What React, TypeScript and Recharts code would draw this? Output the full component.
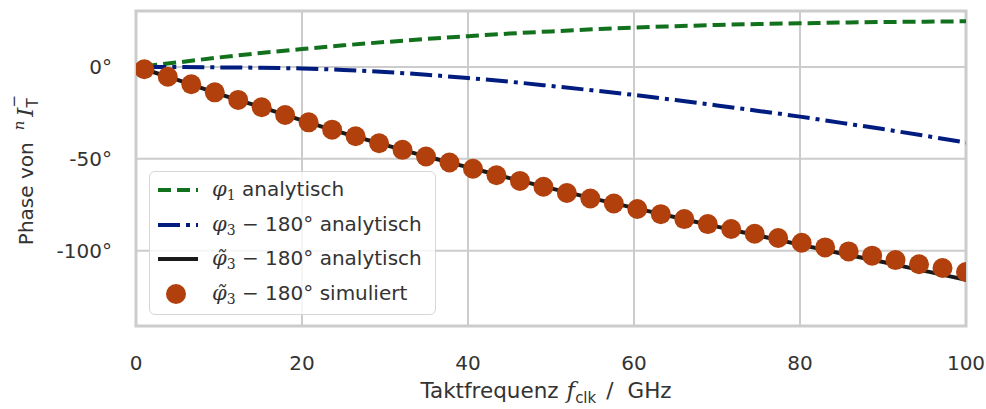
import { ComposedChart, Line, Scatter, XAxis, YAxis, CartesianGrid, Legend, ReferenceArea } from 'recharts';

// analytic curves (GHz -> degrees)
const freqAnalytic = [1, 5, 10, 15, 20, 25, 30, 35, 40, 45, 50, 55, 60, 65, 70, 75, 80, 85, 90, 95, 100];
const phi1 = [0.5, 2.5, 5.2, 7.6, 9.8, 11.8, 13.6, 15.3, 16.8, 18.2, 19.4, 20.5, 21.5, 22.2, 22.9, 23.4, 23.8, 24.2, 24.5, 24.7, 24.9];
const phi3 = [0, 0, -0.2, -0.4, -0.8, -1.6, -2.7, -4.2, -6.0, -8.0, -10.3, -12.7, -15.2, -18.0, -20.9, -23.9, -27.0, -30.4, -33.8, -37.4, -41.1];
const phi3Tilde = [-1.2, -7.0, -14.6, -21.7, -29.0, -36.0, -42.4, -48.7, -54.5, -60.5, -66.1, -71.5, -76.7, -81.8, -86.9, -91.8, -96.7, -101.5, -106.2, -111.0, -115.8];

// simulated points
const freqSim = [1, 3.83, 6.66, 9.49, 12.31, 15.14, 17.97, 20.8, 23.63, 26.46, 29.29, 32.11, 34.94, 37.77, 40.6, 43.43, 46.26, 49.09, 51.91, 54.74, 57.57, 60.4, 63.23, 66.06, 68.89, 71.71, 74.54, 77.37, 80.2, 83.03, 85.86, 88.69, 91.51, 94.34, 97.17, 100];
const phi3Sim = [-1.2, -5.3, -9.4, -13.8, -17.9, -21.9, -26.1, -30.1, -34.1, -37.7, -41.5, -45.1, -48.7, -52.0, -55.4, -58.9, -62.0, -65.2, -68.6, -71.6, -74.3, -77.3, -80.1, -82.8, -85.5, -88.2, -90.8, -93.1, -95.7, -98.2, -100.4, -102.7, -105.1, -107.4, -109.4, -111.6];

const xTicks = [0, 20, 40, 60, 80, 100];
const yTicks = [-100, -50, 0];

const GREEN = '#12711c';
const BLUE = '#001c7f';
const ORANGE = '#b1400d';
const BLACK = '#1a1a1a';
const GRID = '#cccccc';
const TEXT = '#333333';
const FONT = '"DejaVu Sans", sans-serif';
const MATH = '"DejaVu Serif", serif';

const phi1Data = freqAnalytic.map((f, i) => ({ x: f, y: phi1[i] }));
const phi3Data = freqAnalytic.map((f, i) => ({ x: f, y: phi3[i] }));
const phi3TildeData = freqAnalytic.map((f, i) => ({ x: f, y: phi3Tilde[i] }));
const simData = freqSim.map((f, i) => ({ x: f, y: phi3Sim[i] }));

function Phi({ tilde, sub }: { tilde?: boolean; sub: string }) {
  return (
    <span style={{ fontFamily: MATH }}>
      <i style={{ fontSize: 21 }}>{tilde ? 'φ\u0303' : 'φ'}</i>
      <span style={{ fontSize: 14, verticalAlign: -4 }}>{sub}</span>
    </span>
  );
}

function Sample({ kind, color }: { kind: string; color: string }) {
  return (
    <svg width={44} height={22} style={{ flexShrink: 0 }}>
      {kind === 'dot' ? (
        <circle cx={20} cy={11} r={10} fill={color} />
      ) : (
        <line
          x1={2}
          x2={42}
          y1={11}
          y2={11}
          stroke={color}
          strokeWidth={4}
          strokeDasharray={kind === 'dash' ? '13 6' : kind === 'dashdot' ? '22 6 4 6' : undefined}
        />
      )}
    </svg>
  );
}

const legendRows = [
  { kind: 'dash', color: GREEN, sub: '1', tilde: false, rest: ' analytisch', deg: false },
  { kind: 'dashdot', color: BLUE, sub: '3', tilde: false, rest: ' analytisch', deg: true },
  { kind: 'solid', color: BLACK, sub: '3', tilde: true, rest: ' analytisch', deg: true },
  { kind: 'dot', color: ORANGE, sub: '3', tilde: true, rest: ' simuliert', deg: true },
];

function LegendBox() {
  return (
    <div
      style={{
        width: 287,
        height: 144,
        border: '1.5px solid #d6d6d6',
        borderRadius: 6,
        background: 'rgba(255,255,255,0.8)',
        padding: '1px 0 0 6px',
        boxSizing: 'border-box',
        fontFamily: FONT,
        fontSize: 20,
        color: TEXT,
      }}
    >
      {legendRows.map((r, i) => (
        <div key={i} style={{ display: 'flex', alignItems: 'center', height: 34.5, whiteSpace: 'nowrap' }}>
          <Sample kind={r.kind} color={r.color} />
          <span style={{ marginLeft: 12 }}>
            <Phi tilde={r.tilde} sub={r.sub} />
            {r.deg ? ' \u2212 180°' : ''}
            {r.rest}
          </span>
        </div>
      ))}
    </div>
  );
}

function YLabel() {
  return (
    <text
      x={33}
      y={170}
      transform="rotate(-90, 33, 170)"
      textAnchor="middle"
      fill={TEXT}
      fontFamily={FONT}
      fontSize={20}
    >
      Phase von
      <tspan fontFamily={MATH} fontStyle="italic" fontSize={15} dx={12} dy={-9}>n</tspan>
      <tspan fontFamily={MATH} fontStyle="italic" fontSize={23} dx={4} dy={9}>I</tspan>
      <tspan fontFamily={FONT} fontSize={15} dx={0} dy={5}>T</tspan>
      <tspan fontFamily={FONT} fontSize={15} dx={-9} dy={-19}>{'\u2212'}</tspan>
    </text>
  );
}

function XLabel() {
  return (
    <text x={546} y={398} textAnchor="middle" fill={TEXT} fontFamily={FONT} fontSize={21.5}>
      Taktfrequenz
      <tspan fontFamily={MATH} fontStyle="italic" fontSize={23} dx={8}>f</tspan>
      <tspan fontSize={15} dy={5}>clk</tspan>
      <tspan dx={10} dy={-5}>/</tspan>
      <tspan dx={14}>GHz</tspan>
    </text>
  );
}

export default function App() {
  return (
    <div style={{ position: 'absolute', left: 0, top: 0, width: 986, height: 409, background: '#fff' }}>
      <ComposedChart width={986} height={409} margin={{ top: 11, right: 20, bottom: 23, left: 0 }}>
        <CartesianGrid stroke={GRID} strokeWidth={2} />
        <XAxis
          type="number"
          dataKey="x"
          domain={[0, 100]}
          ticks={xTicks}
          allowDataOverflow
          height={60}
          axisLine={false}
          tickLine={false}
          tickSize={0}
          tickMargin={30}
          tick={{ fill: TEXT, fontSize: 20, fontFamily: FONT }}
          label={<XLabel />}
        />
        <YAxis
          type="number"
          dataKey="y"
          domain={[-141, 30.5]}
          ticks={yTicks}
          allowDataOverflow
          width={136}
          axisLine={false}
          tickLine={false}
          tickSize={0}
          tickMargin={24}
          tickFormatter={(v: number) => `${v}°`}
          tick={{ fill: TEXT, fontSize: 20, fontFamily: FONT }}
          label={<YLabel />}
        />
        <ReferenceArea x1={0} x2={100} y1={-141} y2={30.5} fill="none" stroke={GRID} strokeWidth={3} />
        <Line data={phi1Data} dataKey="y" type="monotone" stroke={GREEN} strokeWidth={4} strokeDasharray="13 6" dot={false} isAnimationActive={false} />
        <Line data={phi3Data} dataKey="y" type="monotone" stroke={BLUE} strokeWidth={4} strokeDasharray="22 6 4 6" dot={false} isAnimationActive={false} />
        <Line data={phi3TildeData} dataKey="y" type="monotone" stroke={BLACK} strokeWidth={4} dot={false} isAnimationActive={false} />
        <Scatter data={simData} dataKey="y" fill={ORANGE} shape={(p: any) => <circle cx={p.cx} cy={p.cy} r={10} fill={ORANGE} />} isAnimationActive={false} />
        <Legend
          layout="horizontal"
          verticalAlign="middle"
          align="center"
          content={() => <LegendBox />}
          wrapperStyle={{ position: 'absolute', left: 149, top: 171, width: 287, height: 144 }}
        />
      </ComposedChart>
    </div>
  );
}
